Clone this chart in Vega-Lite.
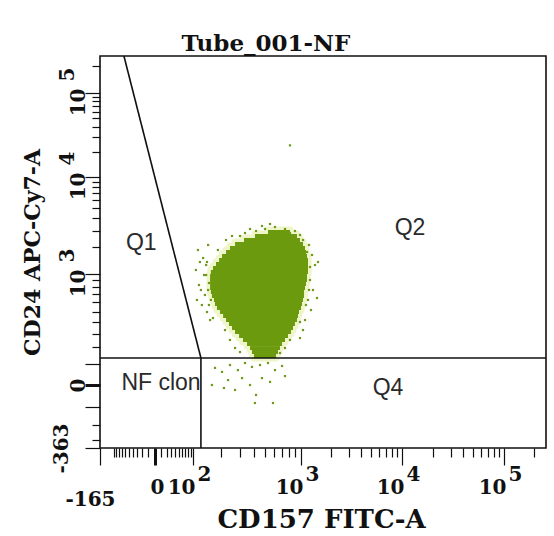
{
  "$schema": "https://vega.github.io/schema/vega-lite/v6.json",
  "width": 446,
  "height": 392,
  "autosize": {"type": "none"},
  "padding": {"left": 100, "top": 56, "right": 8, "bottom": 88},
  "background": "white",
  "config": {
    "view": {"stroke": "#111", "strokeWidth": 1.6},
    "font": "DejaVu Serif"
  },
  "title": {
    "text": "Tube_001-NF",
    "font": "DejaVu Serif",
    "fontWeight": "bold",
    "fontSize": 23,
    "color": "#111",
    "anchor": "middle",
    "frame": "group",
    "dx": -57,
    "dy": 25,
    "offset": 6,
    "baseline": "alphabetic"
  },
  "datasets": {
    "core": [
      {"x": 529, "x2": 811, "y": 3040, "y2": 2767},
      {"x": 408, "x2": 927, "y": 2767, "y2": 2516},
      {"x": 326, "x2": 981, "y": 2516, "y2": 2286},
      {"x": 270, "x2": 1048, "y": 2286, "y2": 2073},
      {"x": 242, "x2": 1098, "y": 2073, "y2": 1879},
      {"x": 222, "x2": 1124, "y": 1879, "y2": 1700},
      {"x": 203, "x2": 1151, "y": 1700, "y2": 1535},
      {"x": 190, "x2": 1178, "y": 1535, "y2": 1384},
      {"x": 177, "x2": 1178, "y": 1384, "y2": 1245},
      {"x": 165, "x2": 1178, "y": 1245, "y2": 1117},
      {"x": 157, "x2": 1178, "y": 1117, "y2": 1000},
      {"x": 154, "x2": 1151, "y": 1000, "y2": 935},
      {"x": 154, "x2": 1151, "y": 935, "y2": 873},
      {"x": 154, "x2": 1124, "y": 873, "y2": 814},
      {"x": 154, "x2": 1098, "y": 814, "y2": 758},
      {"x": 157, "x2": 1073, "y": 758, "y2": 705},
      {"x": 161, "x2": 1073, "y": 705, "y2": 654},
      {"x": 169, "x2": 1048, "y": 654, "y2": 606},
      {"x": 173, "x2": 1024, "y": 606, "y2": 560},
      {"x": 181, "x2": 1000, "y": 560, "y2": 516},
      {"x": 194, "x2": 963, "y": 516, "y2": 475},
      {"x": 208, "x2": 945, "y": 475, "y2": 435},
      {"x": 222, "x2": 927, "y": 435, "y2": 398},
      {"x": 237, "x2": 892, "y": 398, "y2": 362},
      {"x": 253, "x2": 859, "y": 362, "y2": 328},
      {"x": 270, "x2": 827, "y": 328, "y2": 296},
      {"x": 294, "x2": 781, "y": 296, "y2": 265},
      {"x": 319, "x2": 737, "y": 265, "y2": 236},
      {"x": 347, "x2": 696, "y": 236, "y2": 208},
      {"x": 369, "x2": 669, "y": 208, "y2": 182},
      {"x": 384, "x2": 644, "y": 182, "y2": 157},
      {"x": 400, "x2": 619, "y": 157, "y2": 133}
    ],
    "dots": [
      {"x": 114, "y": 1879}, {"x": 120, "y": 1384}, {"x": 108, "y": 1117}, {"x": 130, "y": 1535},
      {"x": 117, "y": 828}, {"x": 136, "y": 692}, {"x": 126, "y": 571}, {"x": 143, "y": 495},
      {"x": 111, "y": 630}, {"x": 133, "y": 983}, {"x": 147, "y": 2125}, {"x": 154, "y": 416},
      {"x": 140, "y": 1279}, {"x": 123, "y": 758}, {"x": 150, "y": 858}, {"x": 157, "y": 630},
      {"x": 300, "y": 2639}, {"x": 369, "y": 3112}, {"x": 470, "y": 3338}, {"x": 607, "y": 3261},
      {"x": 737, "y": 3112}, {"x": 892, "y": 2970}, {"x": 981, "y": 2703}, {"x": 333, "y": 2833},
      {"x": 551, "y": 3496}, {"x": 417, "y": 2970},
      {"x": 1206, "y": 2125}, {"x": 1293, "y": 1657}, {"x": 1386, "y": 1279}, {"x": 1234, "y": 903},
      {"x": 1323, "y": 758}, {"x": 1178, "y": 630}, {"x": 1263, "y": 516}, {"x": 1098, "y": 416},
      {"x": 1048, "y": 328}, {"x": 1486, "y": 1384}, {"x": 981, "y": 265},
      {"x": 217, "y": 328}, {"x": 242, "y": 251}, {"x": 270, "y": 195}, {"x": 300, "y": 169},
      {"x": 811, "y": 251}, {"x": 737, "y": 195}, {"x": 669, "y": 163},
      {"x": 173, "y": 79}, {"x": 203, "y": 59}, {"x": 242, "y": 94}, {"x": 287, "y": 68},
      {"x": 333, "y": 105}, {"x": 384, "y": 84}, {"x": 452, "y": 94}, {"x": 529, "y": 105},
      {"x": 607, "y": 68}, {"x": 696, "y": 89}, {"x": 232, "y": 21}, {"x": 313, "y": 30},
      {"x": 369, "y": 0}, {"x": 470, "y": 30}, {"x": 551, "y": 13}, {"x": 270, "y": -20},
      {"x": 417, "y": -41}, {"x": 212, "y": -12}, {"x": 161, "y": 0}, {"x": 408, "y": -78},
      {"x": 584, "y": -78}, {"x": 737, "y": 39},
      {"x": 811, "y": 24000}, {"x": 1452, "y": 654},
      {"x": 143, "y": 1384}, {"x": 140, "y": 983}, {"x": 147, "y": 758}, {"x": 150, "y": 571},
      {"x": 165, "y": 435}, {"x": 185, "y": 1879}, {"x": 222, "y": 2398}, {"x": 253, "y": 2639},
      {"x": 499, "y": 3112}, {"x": 811, "y": 2833}, {"x": 1048, "y": 2398}, {"x": 1151, "y": 1787},
      {"x": 1234, "y": 1212}, {"x": 1206, "y": 758}, {"x": 1124, "y": 571}, {"x": 981, "y": 398}
    ],
    "gates": [
      {"x": -165, "x2": 262144, "y": 133, "y2": 133},
      {"x": 123, "x2": 123, "y": -363, "y2": 133},
      {"x": -64, "x2": 123, "y": 262144, "y2": 133}
    ],
    "quadrants": [
      {"label": "Q1", "x": -22, "y": 2231},
      {"label": "Q2", "x": 12000, "y": 3186},
      {"label": "NF clon", "x": 9.5, "y": 8},
      {"label": "Q4", "x": 7300, "y": -12}
    ]
  },
  "encoding": {
    "x": {
      "field": "x", "type": "quantitative", "axis": null,
      "scale": {"type": "symlog", "constant": 50, "domain": [-165, 0, 100, 1000, 10000, 100000, 262144], "range": [0, 55, 93, 201, 302, 404, 446], "nice": false, "zero": false}
    },
    "y": {
      "field": "y", "type": "quantitative", "axis": null,
      "scale": {"type": "symlog", "constant": 330, "domain": [-363, 0, 1000, 10000, 100000, 262144], "range": [392, 329, 218, 121, 37, 0], "nice": false, "zero": false}
    }
  },
  "layer": [
    {
      "data": {"name": "core"},
      "mark": {"type": "rect", "fill": "#eef5c8", "stroke": "#eef5c8", "strokeWidth": 7, "strokeJoin": "round"},
      "encoding": {
        "x": {
          "field": "x", "type": "quantitative",
          "scale": {"type": "symlog", "constant": 50, "domain": [-165, 0, 100, 1000, 10000, 100000, 262144], "range": [0, 55, 93, 201, 302, 404, 446], "nice": false, "zero": false},
          "axis": {
            "orient": "bottom", "domain": false, "grid": false,
            "values": [-165, -100, -90, -80, -70, -60, -50, -40, -30, -20, -10, 0, 10, 20, 30, 40, 50, 60, 70, 80, 90, 100, 200, 300, 400, 500, 600, 700, 800, 900, 1000, 2000, 3000, 4000, 5000, 6000, 7000, 8000, 9000, 10000, 20000, 30000, 40000, 50000, 60000, 70000, 80000, 90000, 100000, 200000],
            "tickColor": "#111",
            "tickWidth": {"condition": {"test": "datum.value == 0", "value": 3}, "value": 1.2},
            "tickSize": {"condition": {"test": "indexof([-165, 0, 100, 1000, 10000, 100000], datum.value) >= 0", "value": 17}, "value": 9},
            "labelExpr": "datum.value == -165 ? '-165' : datum.value == 0 ? '0' : indexof([100, 1000, 10000, 100000], datum.value) >= 0 ? '10' : ''",
            "labelFont": "DejaVu Serif", "labelFontWeight": "bold", "labelFontSize": 20, "labelColor": "#111",
            "labelAlign": {"condition": {"test": "datum.value >= 100", "value": "right"}, "value": "center"},
            "labelBaseline": "alphabetic",
            "labelPadding": {"condition": {"test": "datum.value < 0", "value": 40}, "value": 28},
            "labelOffset": {"condition": {"test": "datum.value < 0", "value": -10}, "value": 2},
            "labelOverlap": false, "labelFlush": false, "labelBound": false,
            "title": "CD157 FITC-A", "titleFont": "DejaVu Serif", "titleFontWeight": "bold", "titleFontSize": 26, "titleColor": "#111",
            "titleX": 221, "titleY": 79, "titleAlign": "center", "titleBaseline": "alphabetic"
          }
        },
        "x2": {"field": "x2"},
        "y": {
          "field": "y", "type": "quantitative",
          "scale": {"type": "symlog", "constant": 330, "domain": [-363, 0, 1000, 10000, 100000, 262144], "range": [392, 329, 218, 121, 37, 0], "nice": false, "zero": false},
          "axis": {
            "orient": "left", "domain": false, "grid": false,
            "values": [-363, -300, -200, -100, 0, 100, 200, 300, 400, 500, 600, 700, 800, 900, 1000, 2000, 3000, 4000, 5000, 6000, 7000, 8000, 9000, 10000, 20000, 30000, 40000, 50000, 60000, 70000, 80000, 90000, 100000, 200000],
            "tickColor": "#111",
            "tickWidth": {"condition": {"test": "datum.value == 0", "value": 3}, "value": 1.2},
            "tickSize": {"condition": {"test": "indexof([-363, -100, 0, 100, 1000, 10000, 100000], datum.value) >= 0", "value": 15}, "value": 8},
            "labelExpr": "datum.value == -363 ? '-363' : datum.value == 0 ? '0' : indexof([1000, 10000, 100000], datum.value) >= 0 ? '10' : ''",
            "labelFont": "DejaVu Serif", "labelFontWeight": "bold", "labelFontSize": 20, "labelColor": "#111",
            "labelAngle": 270,
            "labelAlign": {"condition": {"test": "datum.value >= 1000", "value": "right"}, "value": "center"},
            "labelBaseline": "alphabetic",
            "labelPadding": {"condition": {"test": "datum.value < 0", "value": 18}, "value": 1},
            "labelOffset": {"condition": {"test": "datum.value >= 1000", "value": -5}, "value": 0},
            "labelOverlap": false, "labelFlush": false, "labelBound": false,
            "title": "CD24 APC-Cy7-A", "titleFont": "DejaVu Serif", "titleFontWeight": "bold", "titleFontSize": 22, "titleColor": "#111",
            "titleAngle": 270, "titleX": -61, "titleY": 196, "titleAlign": "center", "titleBaseline": "alphabetic"
          }
        },
        "y2": {"field": "y2"}
      }
    },
    {
      "data": {"name": "core"},
      "mark": {"type": "rect", "fill": "#6c9a0e"},
      "encoding": {
        "x": {
          "field": "x", "type": "quantitative",
          "scale": {"type": "symlog", "constant": 50, "domain": [-165, 0, 100, 1000, 10000, 100000, 262144], "range": [0, 55, 93, 201, 302, 404, 446], "nice": false, "zero": false},
          "axis": {
            "orient": "bottom", "domain": false, "grid": false,
            "values": [100, 1000, 10000, 100000],
            "ticks": true, "tickSize": 0, "tickOpacity": 0,
            "labelExpr": "datum.value == 100 ? '2' : datum.value == 1000 ? '3' : datum.value == 10000 ? '4' : '5'",
            "labelFont": "DejaVu Serif", "labelFontWeight": "bold", "labelFontSize": 20, "labelColor": "#111",
            "labelAlign": "left", "labelBaseline": "alphabetic",
            "labelPadding": 32, "labelOffset": 4,
            "labelOverlap": false, "labelFlush": false, "labelBound": false,
            "title": null
          }
        },
        "x2": {"field": "x2"},
        "y": {
          "field": "y", "type": "quantitative",
          "scale": {"type": "symlog", "constant": 330, "domain": [-363, 0, 1000, 10000, 100000, 262144], "range": [392, 329, 218, 121, 37, 0], "nice": false, "zero": false},
          "axis": {
            "orient": "left", "domain": false, "grid": false,
            "values": [1000, 10000, 100000],
            "ticks": true, "tickSize": 0, "tickOpacity": 0,
            "labelExpr": "datum.value == 1000 ? '3' : datum.value == 10000 ? '4' : '5'",
            "labelFont": "DejaVu Serif", "labelFontWeight": "bold", "labelFontSize": 20, "labelColor": "#111",
            "labelAngle": 270, "labelAlign": "left", "labelBaseline": "alphabetic",
            "labelPadding": 27, "labelOffset": -12,
            "labelOverlap": false, "labelFlush": false, "labelBound": false,
            "title": null
          }
        },
        "y2": {"field": "y2"}
      }
    },
    {
      "data": {"name": "dots"},
      "mark": {"type": "square", "size": 5, "color": "#6f9a1c", "opacity": 1}
    },
    {
      "data": {"name": "gates"},
      "mark": {"type": "rule", "color": "#111", "strokeWidth": 1.6},
      "encoding": {
        "x2": {"field": "x2"},
        "y2": {"field": "y2"}
      }
    },
    {
      "data": {"name": "quadrants"},
      "mark": {"type": "text", "font": "Liberation Sans", "fontSize": 23, "color": "#2a2a2a", "align": "center", "baseline": "middle"},
      "encoding": {
        "text": {"field": "label"}
      }
    }
  ],
  "resolve": {"axis": {"x": "independent", "y": "independent"}}
}
